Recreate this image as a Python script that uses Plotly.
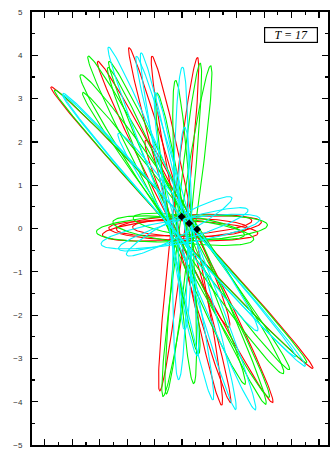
import numpy as np
import plotly.graph_objects as go

# ---- data (orbit loops: outer tip, minor half-axis, small centre shift) ----
red_tip_x = [-4.78, -3.19, -1.85, -1.27, 0.69, -1.52, -2.90, -2.47, -2.10, -2.72]
red_tip_y = [3.25, 3.94, 4.10, 4.03, 3.85, 2.16, -0.15, -0.10, 0.01, 0.06]
red_minor = [0.18, 0.21, 0.16, 0.18, 0.16, 0.21, 0.25, 0.23, 0.21, 0.23]
red_cx = [0.00, 0.12, -0.08, 0.18, -0.12, 0.20, 0.00, 0.08, 0.30, 0.05]
red_cy = [0.02, -0.08, 0.08, -0.05, 0.10, -0.12, 0.00, 0.08, 0.02, -0.05]

green_tip_x = [-4.60, -3.77, -3.70, -3.30, -2.86, -2.50, -0.33, -0.76, 0.62, 0.87, -3.12, -2.57, -2.03]
green_tip_y = [3.15, 3.20, 3.45, 3.94, 3.96, 3.66, 3.50, 3.01, 3.82, 3.82, -0.08, 0.20, 0.20]
green_minor = [0.18, 0.21, 0.28, 0.23, 0.21, 0.21, 0.18, 0.18, 0.16, 0.18, 0.30, 0.28, 0.23]
green_cx = [-0.05, 0.15, 0.00, -0.12, 0.20, -0.20, 0.10, -0.15, 0.05, 0.18, 0.00, 0.05, 0.25]
green_cy = [0.05, -0.06, 0.10, 0.04, -0.10, 0.06, -0.08, 0.12, 0.00, -0.06, 0.00, -0.05, 0.05]

cyan_tip_x = [-4.42, -4.24, -2.68, -1.81, -1.31, 0.07, -2.54, 0.00, -0.76, -2.90, -2.36, -1.92]
cyan_tip_y = [3.13, 3.04, 4.19, 4.08, 4.01, 3.61, 2.28, 2.34, 3.04, -0.29, -0.45, -0.66]
cyan_minor = [0.18, 0.18, 0.21, 0.18, 0.18, 0.18, 0.23, 0.16, 0.18, 0.28, 0.23, 0.21]
cyan_cx = [0.08, -0.10, 0.00, 0.15, -0.18, -0.05, 0.22, 0.10, -0.20, -0.05, 0.05, -0.10]
cyan_cy = [-0.05, 0.08, 0.00, -0.10, 0.05, 0.12, -0.08, 0.00, 0.10, -0.07, -0.02, 0.05]

body_x = [-0.01, 0.265, 0.555]
body_y = [0.273, 0.120, -0.018]

# ---- layout geometry ----
W, H = 331, 454
ML, MR, MT, MB = 32, 1, 12, 9
XR = [-5.47, 5.33]
YR = [-5.0, 5.0]
px_per_x = (W - ML - MR) / (XR[1] - XR[0])
px_per_y = (H - MT - MB) / (YR[1] - YR[0])
k = px_per_x / px_per_y


def loops(tx, ty, mb, cx, cy):
    xs, ys = [], []
    t = np.linspace(0, 2 * np.pi, 160)
    for x0, y0, b, ox, oy in zip(tx, ty, mb, cx, cy):
        ux, uy = x0 * k, y0
        n = np.hypot(ux, uy)
        vx, vy = -uy / n * b, ux / n * b
        px = ux * np.cos(t) + vx * np.sin(t)
        py = uy * np.cos(t) + vy * np.sin(t)
        xs += list(px / k + ox) + [None]
        ys += list(py + oy) + [None]
    return xs, ys


fig = go.Figure()
for tx, ty, mb, cx, cy, col in [
    (red_tip_x, red_tip_y, red_minor, red_cx, red_cy, "rgb(255,0,0)"),
    (green_tip_x, green_tip_y, green_minor, green_cx, green_cy, "rgb(0,245,0)"),
    (cyan_tip_x, cyan_tip_y, cyan_minor, cyan_cx, cyan_cy, "rgb(0,245,255)"),
]:
    xs, ys = loops(tx, ty, mb, cx, cy)
    fig.add_trace(go.Scatter(x=xs, y=ys, mode="lines",
                             line=dict(color=col, width=1.1),
                             hoverinfo="skip", showlegend=False))

fig.add_trace(go.Scatter(x=body_x, y=body_y, mode="markers",
                         marker=dict(symbol="diamond", size=6, color="black"),
                         hoverinfo="skip", showlegend=False))

axis_common = dict(showgrid=False, zeroline=False, showline=True, linewidth=2,
                   linecolor="black", mirror="allticks", ticks="inside",
                   ticklen=6, tickwidth=1.2, tickcolor="black")

fig.update_layout(
    width=W, height=H,
    margin=dict(l=ML, r=MR, t=MT, b=MB),
    paper_bgcolor="white", plot_bgcolor="white",
    hovermode=False,
    xaxis=dict(range=XR, dtick=1, tick0=0, showticklabels=False,
               minor=dict(ticks="inside", ticklen=3, dtick=0.5, tick0=0,
                          tickcolor="black", showgrid=False),
               **axis_common),
    yaxis=dict(range=YR, dtick=1, tick0=0,
               tickfont=dict(family="Liberation Sans, Arial", size=8, color="#333"),
               ticklabelstandoff=6,
               minor=dict(ticks="inside", ticklen=3, dtick=0.5, tick0=0,
                          tickcolor="black", showgrid=False),
               **axis_common),
    annotations=[dict(
        xref="paper", yref="paper", x=0.876, y=0.948,
        xanchor="center", yanchor="middle", showarrow=False,
        text="<i>T = 17</i>",
        font=dict(family="Liberation Serif, Times New Roman", size=12, color="black"),
        bgcolor="white", bordercolor="black", borderwidth=1.2, borderpad=1,
        width=50, height=12,
    )],
)

fig.write_html("out.html", config={"displayModeBar": False, "staticPlot": True},
               post_script="document.body.style.margin='0px';document.body.style.overflow='hidden';")
